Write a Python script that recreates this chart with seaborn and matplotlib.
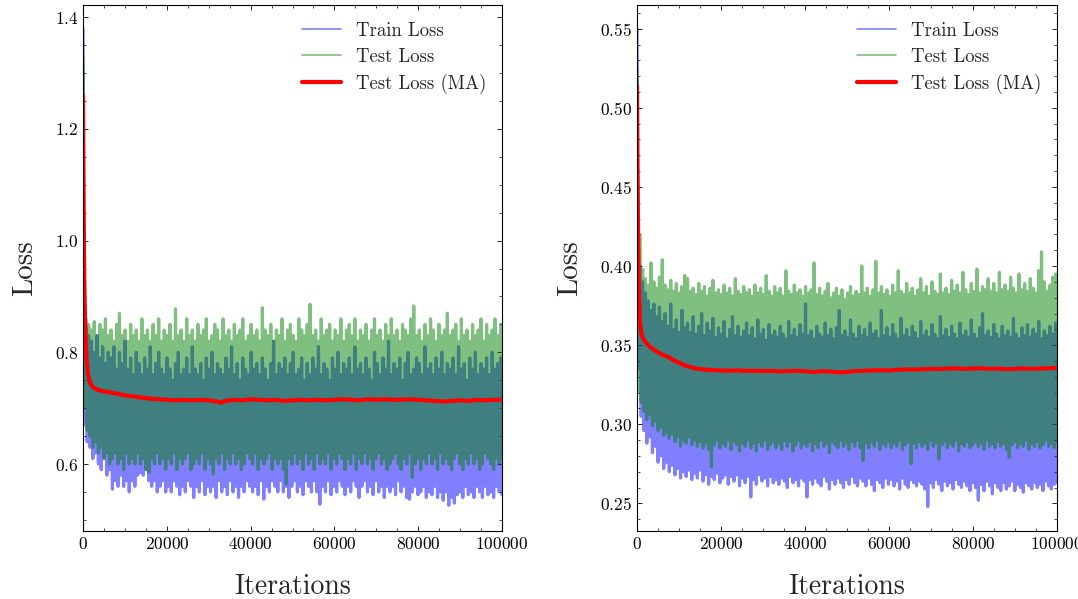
import numpy as np
import pandas as pd
import matplotlib
matplotlib.use("Agg")
import matplotlib.pyplot as plt
from matplotlib.ticker import MultipleLocator
import seaborn as sns

# ---------------- data ----------------
# Noisy curves: alternating peak / trough readings per ~670-iteration slot
left_train_hi = [
    1.38, 0.85, 0.83, 0.82, 0.80, 0.83, 0.79, 0.81, 0.78, 0.80,
    0.79, 0.81, 0.77, 0.80, 0.78, 0.82, 0.77, 0.79, 0.76, 0.80,
    0.78, 0.76, 0.79, 0.77, 0.81, 0.76, 0.78, 0.80, 0.77, 0.76,
    0.79, 0.77, 0.75, 0.78, 0.80, 0.76, 0.77, 0.79, 0.76, 0.81,
    0.77, 0.76, 0.78, 0.75, 0.79, 0.77, 0.80, 0.76, 0.78, 0.77,
    0.76, 0.79, 0.77, 0.81, 0.76, 0.78, 0.75, 0.79, 0.77, 0.76,
    0.80, 0.77, 0.78, 0.76, 0.79, 0.77, 0.75, 0.78, 0.82, 0.76,
    0.78, 0.77, 0.79, 0.76, 0.78, 0.80, 0.76, 0.77, 0.79, 0.75,
    0.78, 0.76, 0.79, 0.77, 0.81, 0.76, 0.78, 0.77, 0.75, 0.79,
    0.77, 0.80, 0.76, 0.78, 0.77, 0.79, 0.76, 0.81, 0.77, 0.78,
    0.76, 0.79, 0.77, 0.75, 0.80, 0.78, 0.76, 0.79, 0.77, 0.82,
    0.76, 0.78, 0.77, 0.79, 0.75, 0.78, 0.80, 0.76, 0.77, 0.79,
    0.78, 0.76, 0.81, 0.77, 0.78, 0.76, 0.79, 0.77, 0.80, 0.76,
    0.78, 0.77, 0.79, 0.76, 0.81, 0.77, 0.78, 0.75, 0.79, 0.77,
    0.80, 0.76, 0.78, 0.77, 0.79, 0.76, 0.80, 0.77, 0.78, 0.79]
left_train_lo = [
    0.67, 0.64, 0.63, 0.61, 0.62, 0.60, 0.59, 0.61, 0.58, 0.59,
    0.555, 0.57, 0.56, 0.58, 0.56, 0.57, 0.55, 0.57, 0.56, 0.58,
    0.585, 0.58, 0.59, 0.57, 0.56, 0.57, 0.55, 0.56, 0.57, 0.55,
    0.56, 0.55, 0.57, 0.56, 0.545, 0.56, 0.55, 0.57, 0.56, 0.54,
    0.56, 0.55, 0.57, 0.545, 0.56, 0.55, 0.56, 0.54, 0.57, 0.55,
    0.56, 0.545, 0.57, 0.55, 0.56, 0.54, 0.56, 0.55, 0.57, 0.56,
    0.55, 0.56, 0.545, 0.57, 0.537, 0.56, 0.55, 0.57, 0.56, 0.55,
    0.57, 0.55, 0.56, 0.54, 0.56, 0.57, 0.55, 0.56, 0.545, 0.57,
    0.56, 0.55, 0.57, 0.55, 0.528, 0.56, 0.55, 0.57, 0.545, 0.56,
    0.55, 0.57, 0.56, 0.545, 0.56, 0.55, 0.57, 0.56, 0.54, 0.56,
    0.57, 0.55, 0.56, 0.545, 0.57, 0.55, 0.56, 0.54, 0.56, 0.55,
    0.56, 0.545, 0.57, 0.55, 0.56, 0.54, 0.537, 0.55, 0.56, 0.545,
    0.55, 0.56, 0.54, 0.55, 0.545, 0.56, 0.54, 0.55, 0.535, 0.55,
    0.526, 0.54, 0.53, 0.545, 0.55, 0.54, 0.56, 0.545, 0.55, 0.54,
    0.56, 0.55, 0.54, 0.56, 0.545, 0.55, 0.54, 0.56, 0.55, 0.545]
left_test_hi = [
    1.33, 0.86, 0.85, 0.84, 0.855, 0.83, 0.85, 0.84, 0.86, 0.83,
    0.84, 0.82, 0.85, 0.87, 0.83, 0.84, 0.82, 0.85, 0.83, 0.84,
    0.82, 0.86, 0.83, 0.84, 0.82, 0.85, 0.83, 0.86, 0.82, 0.84,
    0.83, 0.85, 0.82, 0.878, 0.83, 0.84, 0.82, 0.86, 0.83, 0.84,
    0.82, 0.85, 0.83, 0.84, 0.86, 0.82, 0.83, 0.85, 0.84, 0.82,
    0.86, 0.83, 0.84, 0.82, 0.85, 0.83, 0.84, 0.86, 0.82, 0.83,
    0.85, 0.83, 0.84, 0.82, 0.88, 0.84, 0.83, 0.85, 0.82, 0.84,
    0.83, 0.86, 0.82, 0.84, 0.85, 0.83, 0.82, 0.86, 0.84, 0.83,
    0.85, 0.886, 0.83, 0.84, 0.82, 0.86, 0.83, 0.84, 0.85, 0.82,
    0.84, 0.83, 0.86, 0.82, 0.84, 0.85, 0.83, 0.86, 0.82, 0.84,
    0.83, 0.85, 0.82, 0.84, 0.86, 0.83, 0.84, 0.82, 0.85, 0.83,
    0.86, 0.83, 0.84, 0.82, 0.85, 0.84, 0.83, 0.86, 0.883, 0.83,
    0.84, 0.82, 0.85, 0.83, 0.86, 0.84, 0.82, 0.85, 0.83, 0.84,
    0.87, 0.83, 0.84, 0.85, 0.82, 0.86, 0.83, 0.84, 0.82, 0.85,
    0.83, 0.84, 0.86, 0.82, 0.85, 0.83, 0.84, 0.86, 0.83, 0.85]
left_test_lo = [
    0.70, 0.66, 0.65, 0.63, 0.64, 0.62, 0.63, 0.61, 0.62, 0.60,
    0.61, 0.62, 0.60, 0.61, 0.59, 0.62, 0.60, 0.61, 0.60, 0.62,
    0.60, 0.61, 0.59, 0.585, 0.61, 0.60, 0.62, 0.60, 0.61, 0.59,
    0.61, 0.60, 0.62, 0.59, 0.61, 0.60, 0.61, 0.62, 0.59, 0.60,
    0.61, 0.60, 0.62, 0.59, 0.61, 0.60, 0.582, 0.61, 0.60, 0.62,
    0.59, 0.61, 0.60, 0.62, 0.60, 0.61, 0.59, 0.60, 0.62, 0.61,
    0.60, 0.62, 0.59, 0.61, 0.60, 0.61, 0.62, 0.59, 0.61, 0.60,
    0.61, 0.59, 0.564, 0.61, 0.60, 0.62, 0.60, 0.61, 0.59, 0.62,
    0.60, 0.61, 0.59, 0.62, 0.60, 0.61, 0.60, 0.62, 0.59, 0.61,
    0.60, 0.62, 0.61, 0.59, 0.61, 0.60, 0.62, 0.59, 0.61, 0.60,
    0.62, 0.60, 0.61, 0.59, 0.61, 0.62, 0.60, 0.61, 0.59, 0.60,
    0.61, 0.62, 0.60, 0.59, 0.61, 0.60, 0.62, 0.576, 0.60, 0.61,
    0.59, 0.61, 0.60, 0.62, 0.60, 0.61, 0.59, 0.62, 0.60, 0.61,
    0.60, 0.59, 0.61, 0.62, 0.60, 0.59, 0.61, 0.60, 0.62, 0.60,
    0.61, 0.59, 0.60, 0.62, 0.61, 0.60, 0.59, 0.61, 0.60, 0.61]

left_ma_iters = [0, 150, 300, 500, 800, 1200, 1700, 2500, 3500, 5000,
                 6000, 8000, 10000, 12000, 14000, 16000, 18000, 20000, 22000, 24000,
                 26000, 28000, 30000, 32000, 33000, 34000, 36000, 38000, 40000, 42000,
                 44000, 46000, 48000, 50000, 52000, 54000, 56000, 58000, 60000, 62000,
                 64000, 66000, 68000, 70000, 72000, 74000, 76000, 78000, 80000, 82000,
                 84000, 86000, 88000, 90000, 92000, 94000, 96000, 98000, 100000]
left_ma = [1.26, 1.05, 0.93, 0.85, 0.79, 0.76, 0.745, 0.737, 0.733, 0.730,
           0.729, 0.726, 0.723, 0.721, 0.719, 0.717, 0.716, 0.715, 0.714, 0.715,
           0.714, 0.715, 0.714, 0.712, 0.710, 0.713, 0.715, 0.714, 0.716, 0.715,
           0.714, 0.715, 0.713, 0.714, 0.715, 0.714, 0.715, 0.714, 0.715, 0.716,
           0.715, 0.714, 0.716, 0.715, 0.716, 0.715, 0.715, 0.716, 0.715, 0.714,
           0.713, 0.712, 0.713, 0.714, 0.713, 0.715, 0.714, 0.715, 0.715]

right_train_hi = [
    0.550, 0.400, 0.390, 0.383, 0.378, 0.372, 0.376, 0.368, 0.374, 0.365,
    0.370, 0.362, 0.376, 0.360, 0.366, 0.358, 0.372, 0.361, 0.364, 0.358,
    0.368, 0.357, 0.362, 0.370, 0.356, 0.364, 0.359, 0.367, 0.355, 0.361,
    0.357, 0.365, 0.354, 0.360, 0.368, 0.356, 0.362, 0.355, 0.359, 0.364,
    0.356, 0.361, 0.354, 0.366, 0.357, 0.360, 0.353, 0.363, 0.356, 0.359,
    0.355, 0.362, 0.357, 0.354, 0.365, 0.356, 0.360, 0.355, 0.363, 0.357,
    0.376, 0.356, 0.359, 0.354, 0.362, 0.357, 0.355, 0.364, 0.356, 0.360,
    0.354, 0.361, 0.372, 0.356, 0.359, 0.355, 0.366, 0.357, 0.354, 0.362,
    0.356, 0.360, 0.355, 0.364, 0.357, 0.359, 0.354, 0.372, 0.356, 0.361,
    0.355, 0.363, 0.357, 0.354, 0.367, 0.356, 0.360, 0.355, 0.362, 0.358,
    0.354, 0.365, 0.356, 0.359, 0.355, 0.363, 0.357, 0.354, 0.368, 0.356,
    0.360, 0.355, 0.362, 0.357, 0.354, 0.364, 0.356, 0.359, 0.355, 0.366,
    0.357, 0.354, 0.361, 0.370, 0.356, 0.359, 0.355, 0.363, 0.357, 0.354,
    0.362, 0.356, 0.359, 0.355, 0.367, 0.357, 0.354, 0.361, 0.356, 0.363,
    0.355, 0.360, 0.357, 0.365, 0.354, 0.359, 0.356, 0.362, 0.357, 0.364]
right_train_lo = [
    0.335, 0.305, 0.296, 0.288, 0.292, 0.282, 0.286, 0.276, 0.280, 0.272,
    0.276, 0.270, 0.274, 0.268, 0.272, 0.266, 0.270, 0.267, 0.271, 0.265,
    0.269, 0.266, 0.271, 0.264, 0.268, 0.262, 0.267, 0.265, 0.269, 0.263,
    0.266, 0.268, 0.262, 0.267, 0.264, 0.268, 0.261, 0.266, 0.263, 0.267,
    0.254, 0.265, 0.262, 0.268, 0.264, 0.266, 0.261, 0.267, 0.263, 0.265,
    0.262, 0.266, 0.264, 0.260, 0.267, 0.263, 0.265, 0.261, 0.266, 0.264,
    0.254, 0.265, 0.262, 0.266, 0.263, 0.261, 0.267, 0.264, 0.259, 0.265,
    0.262, 0.266, 0.263, 0.260, 0.265, 0.262, 0.267, 0.263, 0.261, 0.266,
    0.264, 0.261, 0.266, 0.262, 0.258, 0.265, 0.263, 0.260, 0.266, 0.262,
    0.265, 0.261, 0.264, 0.259, 0.266, 0.262, 0.260, 0.265, 0.263, 0.261,
    0.264, 0.262, 0.259, 0.248, 0.263, 0.260, 0.265, 0.262, 0.258, 0.264,
    0.261, 0.263, 0.259, 0.265, 0.262, 0.260, 0.264, 0.261, 0.258, 0.263,
    0.260, 0.252, 0.262, 0.258, 0.264, 0.261, 0.256, 0.263, 0.260, 0.258,
    0.263, 0.259, 0.261, 0.264, 0.258, 0.262, 0.260, 0.257, 0.263, 0.261,
    0.259, 0.263, 0.260, 0.262, 0.258, 0.264, 0.261, 0.259, 0.262, 0.263]
right_test_hi = [
    0.525, 0.420, 0.398, 0.392, 0.388, 0.402, 0.390, 0.386, 0.393, 0.404,
    0.388, 0.385, 0.391, 0.384, 0.389, 0.383, 0.387, 0.394, 0.392, 0.384,
    0.386, 0.382, 0.389, 0.384, 0.387, 0.381, 0.386, 0.391, 0.383, 0.385,
    0.382, 0.388, 0.383, 0.386, 0.381, 0.392, 0.384, 0.382, 0.387, 0.383,
    0.385, 0.381, 0.388, 0.383, 0.386, 0.382, 0.394, 0.384, 0.381, 0.387,
    0.383, 0.386, 0.381, 0.397, 0.384, 0.382, 0.388, 0.383, 0.385, 0.381,
    0.387, 0.383, 0.385, 0.402, 0.382, 0.386, 0.381, 0.384, 0.389, 0.380,
    0.383, 0.386, 0.381, 0.385, 0.379, 0.383, 0.387, 0.381, 0.384, 0.382,
    0.400, 0.383, 0.386, 0.381, 0.385, 0.403, 0.383, 0.387, 0.382, 0.385,
    0.381, 0.388, 0.383, 0.397, 0.384, 0.382, 0.389, 0.383, 0.386, 0.381,
    0.385, 0.392, 0.383, 0.387, 0.381, 0.390, 0.384, 0.382, 0.395, 0.383,
    0.386, 0.382, 0.391, 0.384, 0.388, 0.383, 0.396, 0.385, 0.382, 0.389,
    0.384, 0.398, 0.383, 0.387, 0.385, 0.392, 0.384, 0.389, 0.383, 0.396,
    0.385, 0.388, 0.384, 0.393, 0.386, 0.383, 0.395, 0.385, 0.389, 0.384,
    0.392, 0.386, 0.383, 0.397, 0.409, 0.390, 0.384, 0.388, 0.393, 0.395]
right_test_lo = [
    0.320, 0.314, 0.308, 0.303, 0.306, 0.299, 0.302, 0.296, 0.298, 0.293,
    0.295, 0.291, 0.294, 0.289, 0.292, 0.286, 0.290, 0.288, 0.292, 0.287,
    0.290, 0.286, 0.289, 0.285, 0.288, 0.284, 0.273, 0.287, 0.290, 0.285,
    0.288, 0.286, 0.290, 0.284, 0.289, 0.287, 0.283, 0.288, 0.286, 0.290,
    0.285, 0.288, 0.283, 0.289, 0.286, 0.290, 0.284, 0.287, 0.289, 0.285,
    0.288, 0.284, 0.290, 0.286, 0.289, 0.283, 0.287, 0.290, 0.285, 0.288,
    0.286, 0.289, 0.283, 0.288, 0.285, 0.290, 0.286, 0.288, 0.282, 0.289,
    0.287, 0.285, 0.290, 0.286, 0.288, 0.284, 0.289, 0.286, 0.290, 0.285,
    0.277, 0.288, 0.285, 0.289, 0.286, 0.290, 0.284, 0.288, 0.286, 0.289,
    0.285, 0.288, 0.286, 0.290, 0.284, 0.287, 0.289, 0.275, 0.288, 0.285,
    0.289, 0.286, 0.288, 0.284, 0.290, 0.286, 0.288, 0.278, 0.287, 0.289,
    0.285, 0.288, 0.286, 0.290, 0.283, 0.288, 0.286, 0.289, 0.285, 0.287,
    0.289, 0.286, 0.288, 0.284, 0.290, 0.286, 0.288, 0.285, 0.289, 0.286,
    0.288, 0.284, 0.279, 0.287, 0.289, 0.285, 0.288, 0.286, 0.290, 0.284,
    0.288, 0.286, 0.289, 0.285, 0.287, 0.290, 0.286, 0.288, 0.285, 0.289]

right_ma_iters = [0, 100, 250, 450, 700, 1000, 1500, 2300, 3500, 4700,
                  6000, 7500, 8700, 10000, 11500, 12600, 14000, 16000, 18000, 20000,
                  22000, 24000, 26000, 28000, 30000, 32000, 34000, 36000, 38000, 40000,
                  42000, 44000, 46000, 48000, 50000, 52000, 54000, 56000, 58000, 60000,
                  62000, 64000, 66000, 68000, 70000, 72000, 74000, 76000, 78000, 80000,
                  82000, 84000, 86000, 88000, 90000, 92000, 94000, 96000, 98000, 100000]
right_ma = [0.514, 0.470, 0.420, 0.385, 0.365, 0.358, 0.354, 0.351, 0.348, 0.346,
            0.344, 0.3425, 0.3405, 0.339, 0.337, 0.3363, 0.3352, 0.3346, 0.3342, 0.3340,
            0.3338, 0.3340, 0.3337, 0.3338, 0.3336, 0.3338, 0.3334, 0.3336, 0.3338, 0.3335,
            0.3330, 0.3335, 0.3333, 0.3328, 0.3330, 0.3336, 0.3338, 0.3340, 0.3342, 0.3340,
            0.3344, 0.3347, 0.3345, 0.3348, 0.3350, 0.3349, 0.3352, 0.3353, 0.3350, 0.3352,
            0.3354, 0.3350, 0.3352, 0.3348, 0.3350, 0.3353, 0.3350, 0.3352, 0.3354, 0.3356]

legend_labels = ["Train Loss", "Test Loss", "Test Loss (MA)"]
x_label = "Iterations"
y_label = "Loss"
max_iter = 100000

# ---------------- style ----------------
sns.set_theme(style="ticks")
plt.rcParams.update({
    "font.family": "serif",
    "font.serif": ["cmr10", "DejaVu Serif"],
    "mathtext.fontset": "cm",
    "axes.formatter.use_mathtext": True,
    "axes.unicode_minus": False,
    "xtick.direction": "in",
    "ytick.direction": "in",
    "xtick.top": True,
    "ytick.right": True,
    "xtick.minor.visible": True,
    "ytick.minor.visible": True,
    "xtick.major.size": 3.5,
    "ytick.major.size": 3.5,
    "xtick.minor.size": 2.0,
    "ytick.minor.size": 2.0,
    "xtick.major.width": 0.6,
    "ytick.major.width": 0.6,
    "xtick.minor.width": 0.5,
    "ytick.minor.width": 0.5,
    "axes.linewidth": 0.8,
    "axes.edgecolor": "black",
    "xtick.color": "black",
    "ytick.color": "black",
})


def noisy(hi, lo):
    vals = np.column_stack([hi, lo]).ravel()
    it = np.linspace(0, max_iter, len(vals))
    return pd.DataFrame({"it": it, "loss": vals})


fig = plt.figure(figsize=(10.78, 5.99), dpi=100)
ax1 = fig.add_axes([0.0770, 0.1135, 0.3887, 0.8781])
ax2 = fig.add_axes([0.5909, 0.1135, 0.3896, 0.8781])

panels = [
    (ax1, left_train_hi, left_train_lo, left_test_hi, left_test_lo, left_ma_iters, left_ma,
     (0.48, 1.422), 0.2, 0.05),
    (ax2, right_train_hi, right_train_lo, right_test_hi, right_test_lo, right_ma_iters, right_ma,
     (0.2325, 0.565), 0.05, 0.01),
]

for ax, thi, tlo, vhi, vlo, ma_it, ma, ylim, ymaj, ymin in panels:
    dtr = noisy(thi, tlo)
    dte = noisy(vhi, vlo)
    dma = pd.DataFrame({"it": ma_it, "loss": ma})
    sns.lineplot(data=dtr, x="it", y="loss", ax=ax, color="blue", alpha=0.5,
                 lw=2.3, label=legend_labels[0], estimator=None, sort=False)
    sns.lineplot(data=dte, x="it", y="loss", ax=ax, color="green", alpha=0.5,
                 lw=2.3, label=legend_labels[1], estimator=None, sort=False)
    sns.lineplot(data=dma, x="it", y="loss", ax=ax, color="red", lw=3,
                 label=legend_labels[2], estimator=None, sort=False)
    ax.set_xlim(0, max_iter)
    ax.set_ylim(*ylim)
    ax.xaxis.set_major_locator(MultipleLocator(20000))
    ax.xaxis.set_minor_locator(MultipleLocator(5000))
    ax.yaxis.set_major_locator(MultipleLocator(ymaj))
    ax.yaxis.set_minor_locator(MultipleLocator(ymin))
    ax.tick_params(labelsize=12.5, which="both")
    ax.set_xlabel(x_label, fontsize=20, labelpad=16)
    ax.set_ylabel(y_label, fontsize=21, labelpad=12)
    leg = ax.legend(loc="upper right", frameon=False, fontsize=13.5,
                    bbox_to_anchor=(1.003, 1.0), handlelength=2.1,
                    labelspacing=0.42)
    for ln in leg.get_lines():
        ln.set_linewidth(1.2 if ln.get_color() != "red" else 3)

fig.savefig("out.png", dpi=100)
